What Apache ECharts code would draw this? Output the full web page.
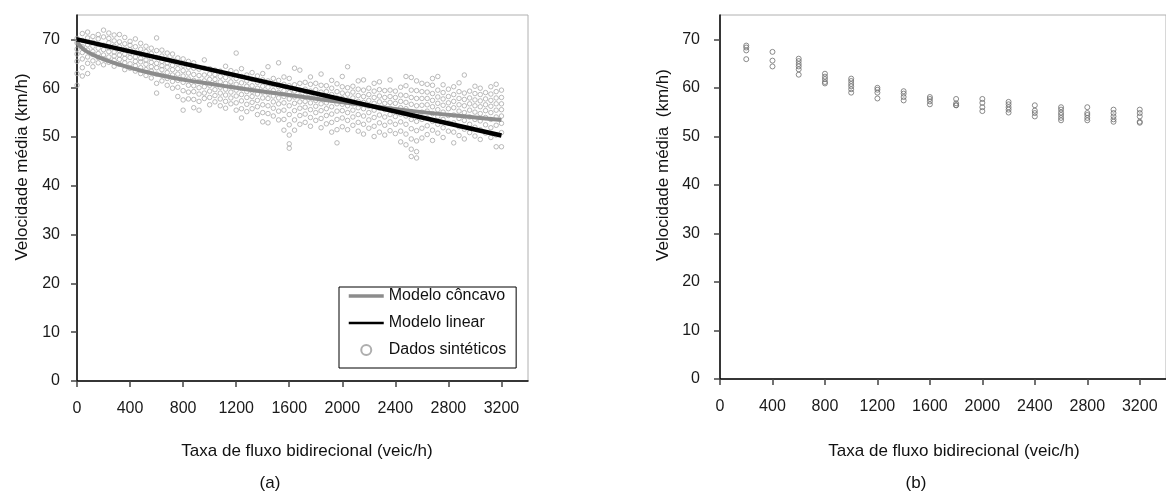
<!DOCTYPE html>
<html><head><meta charset="utf-8">
<script src="https://cdn.jsdelivr.net/npm/echarts@6/dist/echarts.min.js"></script>
<style>html,body{margin:0;padding:0;background:#fff}#c{width:1166px;height:493px}</style>
</head><body><div id="c"></div>
<script>
const flowTicks = [0, 400, 800, 1200, 1600, 2000, 2400, 2800, 3200];
const speedTicks = [0, 10, 20, 30, 40, 50, 60, 70];

// (a) synthetic data: one column of speeds per flow value
const flowA = [0,40,80,120,160,200,240,280,320,360,400,440,480,520,560,600,640,680,720,760,800,840,880,920,960,1000,1040,1080,1120,1160,1200,1240,1280,1320,1360,1400,1440,1480,1520,1560,1600,1640,1680,1720,1760,1800,1840,1880,1920,1960,2000,2040,2080,2120,2160,2200,2240,2280,2320,2360,2400,2440,2480,2520,2560,2600,2640,2680,2720,2760,2800,2840,2880,2920,2960,3000,3040,3080,3120,3160,3200];
const speedA = [
[60.6,63,65.5,67,68,69.3,70.2],
[62.5,64.2,66,67.3,68.5,69.8,71.2],
[63,65.1,66.4,67.8,68.9,70.3,71.5],
[64.4,65.6,66.9,67.5,68.6,69.4,70.6],
[65.2,66.3,67.1,68.2,69,70.1,71],
[64.8,66,66.8,67.9,68.8,70.5,71.9],
[65.3,66.4,67.5,68.3,69.3,70.2,71.3],
[64.5,65.7,66.6,67.4,68.6,69.7,70.9],
[64.9,65.9,66.8,67.7,68.5,69.5,71],
[63.8,65.2,66.1,67,68,69.1,70.4],
[64.1,65,66.3,67.2,67.9,68.8,69.6],
[63.5,64.6,65.5,66.4,67.3,68.5,70.1],
[63,64.2,65.4,66.1,67,68,69.2],
[62.6,63.8,64.9,65.8,66.7,67.5,68.6],
[62.1,63.5,64.4,65.3,66.2,67.1,68.2],
[59,61,62.9,64.2,65.1,66.3,67.7,70.3],
[61.5,62.7,63.8,64.6,65.5,66.6,67.8],
[60.6,62,63.2,64.3,65.2,66,67.2],
[60,61.4,62.7,63.8,64.7,65.8,67],
[58.3,60.2,61.6,62.9,64,65,66.2],
[55.5,57.6,59.5,61.2,62.5,63.6,64.7,66],
[57.8,59.2,60.6,61.9,63.1,64.3,65.5],
[56,57.7,59.3,60.5,61.6,62.8,64.1,65.2],
[55.5,57.3,58.8,60.1,61.4,62.6,63.9],
[57.9,59,60.3,61.5,62.7,64.1,65.8],
[56.6,58.1,59.4,60.6,61.8,62.9,64],
[57.2,58.5,59.7,60.9,61.8,62.8,63.7],
[56.4,57.8,59,60.2,61.3,62.4,63.5],
[55.9,57.3,58.6,59.8,61,62.2,64.5],
[56.8,58,59.2,60.3,61.3,62.5,63.6],
[55.5,57,58.4,59.6,60.8,62,63.3,67.2],
[53.9,55.8,57.4,58.7,59.9,61.1,62.4,64],
[55.2,56.7,58.1,59.3,60.4,61.5,62.7],
[55.8,57.1,58.3,59.4,60.5,61.8,63.2],
[54.6,56.2,57.5,58.8,60,61.2,62.5],
[53.1,55,56.6,58,59.2,60.4,61.7,63],
[52.9,54.8,56.4,57.9,59,60.2,61.5,64.4],
[54.3,55.9,57.2,58.4,59.5,60.7,62],
[53.5,55.3,56.8,58,59.1,60.3,61.6,65.2],
[51.4,53.6,55.5,57,58.3,59.5,60.8,62.3],
[47.7,48.6,50.4,52.5,54.6,56.4,57.8,59.1,60.5,62],
[51.4,53.5,55.4,56.9,58.2,59.4,60.7,64.1],
[52.6,54.4,55.9,57.2,58.4,59.6,61,63.7],
[53,54.7,56.1,57.3,58.5,59.8,61.2],
[52.2,54,55.6,57,58.2,59.4,60.8,62.3],
[53.4,55,56.3,57.5,58.6,59.7,61],
[51.9,53.8,55.4,56.8,58,59.2,60.6,62.9],
[52.7,54.4,55.8,57,58.1,59.3,60.5],
[51,53,54.7,56.2,57.5,58.7,60,61.6],
[48.8,51.5,53.6,55.3,56.8,58,59.3,60.9],
[52.1,53.9,55.4,56.7,57.9,59,60.3,62.4],
[51.5,53.4,55,56.4,57.6,58.8,60.1,64.4],
[52.4,54.1,55.5,56.8,58,59.2,60.4],
[51.2,53,54.6,56,57.3,58.5,59.8,61.5],
[50.6,52.6,54.3,55.8,57.1,58.3,59.6,61.7],
[51.8,53.5,55,56.3,57.5,58.7,60],
[50.1,52.2,54,55.5,56.9,58.1,59.4,61],
[51,52.9,54.5,55.9,57.2,58.4,59.7,61.3],
[50.4,52.4,54.1,55.6,56.9,58.1,59.5],
[51.3,53.1,54.6,55.9,57.1,58.3,59.6,61.7],
[50.7,52.6,54.2,55.6,56.9,58.1,59.4],
[49,51.2,53.1,54.7,56,57.3,58.6,60.2],
[48.4,50.6,52.6,54.3,55.8,57.1,58.5,60.5,62.4],
[46,47.5,49.6,51.7,53.6,55.2,56.7,58.1,59.6,62.2],
[45.7,47,49.2,51.3,53.2,54.9,56.4,57.9,59.5,61.5],
[49.8,51.8,53.6,55.1,56.5,57.9,59.3,61],
[50.5,52.3,53.9,55.3,56.6,57.9,59.2,60.8],
[49.3,51.4,53.2,54.8,56.2,57.5,58.9,60.6,62],
[50.8,52.6,54.2,55.6,56.9,58.2,59.6,62.4],
[49.9,51.9,53.6,55.1,56.5,57.8,59.1,60.7],
[51.2,52.9,54.4,55.8,57,58.3,59.8],
[48.8,51,52.9,54.5,56,57.3,58.7,60.3],
[50.3,52.1,53.8,55.3,56.6,57.9,59.3,61.1],
[49.6,51.6,53.4,55,56.4,57.7,59,62.7],
[50.9,52.6,54.1,55.5,56.8,58,59.4],
[50.2,52,53.6,55.1,56.4,57.6,58.9,60.4],
[49.5,51.5,53.3,54.8,56.2,57.4,58.7,60],
[50.8,52.5,54,55.4,56.6,57.8,59.1],
[49.9,51.9,53.6,55,56.3,57.5,58.8,60.3],
[48,50.4,52.4,54.1,55.5,56.8,58,59.3,60.8],
[48,50.9,52.8,54.3,55.6,56.8,58.1,59.6]
];

// (a) fitted models
const concaveFlow = [0,25,75,175,300,425,675,925,1175,1430,1680,2035,2535,3040,3200];
const concaveSpeed = [69.5,68.6,67.5,66.2,65.0,64.0,62.4,61.2,60.2,59.2,58.3,57.0,55.3,53.9,53.5];
const linearFlow = [0, 3200];
const linearSpeed = [70.0, 50.3];

// (b) points
const flowB = [200,400,600,800,1000,1200,1400,1600,1800,2000,2200,2400,2600,2800,3000,3200];
const speedB = [
[68.7,68.3,67.7,65.9],
[67.4,65.6,64.4],
[66.0,65.5,64.9,64.4,63.8,62.7],
[62.9,62.3,61.8,61.2,60.9],
[61.9,61.4,60.8,60.3,59.7,59.0],
[60.0,59.6,59.0,57.8],
[59.3,58.8,58.1,57.4],
[58.1,57.7,57.2,56.6],
[57.7,56.8,56.4,56.4],
[57.7,56.9,56.0,55.2],
[57.1,56.6,56.0,55.5,54.9],
[56.4,55.3,54.8,54.1],
[56.0,55.5,54.9,54.4,53.8,53.3],
[56.0,54.8,54.4,53.8,53.3],
[55.5,54.8,54.1,53.5,53.0],
[55.5,54.8,54.1,53.0,52.8]
];

const FONT = 'Liberation Sans, Arial, sans-serif';
const scatterA = [];
flowA.forEach((f, i) => speedA[i].forEach(v => scatterA.push([f, v])));
const scatterB = [];
flowB.forEach((f, i) => speedB[i].forEach(v => scatterB.push([f, v])));
const concave = concaveFlow.map((f, i) => [f, concaveSpeed[i]]);
const linear = linearFlow.map((f, i) => [f, linearSpeed[i]]);
const plain = v => String(v);

function xAx(g) {
  return {
    gridIndex: g, type: 'value', min: 0, max: 3400,
    splitLine: { show: false },
    axisLine: { show: true, onZero: false, lineStyle: { color: '#000', width: 1.5 } },
    axisTick: { show: true, customValues: flowTicks, length: 6, lineStyle: { color: '#444', width: 1.5 } },
    axisLabel: { customValues: flowTicks, formatter: plain, margin: 20, fontFamily: FONT, fontSize: 16, color: '#1a1a1a' }
  };
}
function yAx(g, m) {
  return {
    gridIndex: g, type: 'value', min: 0, max: 75,
    splitLine: { show: false },
    axisLine: { show: true, onZero: false, lineStyle: { color: '#000', width: 1.5 } },
    axisTick: { show: true, customValues: speedTicks, length: 6, lineStyle: { color: '#444', width: 1.5 } },
    axisLabel: { customValues: speedTicks, formatter: plain, margin: m, fontFamily: FONT, fontSize: 16, color: '#1a1a1a' }
  };
}
const titleStyle = { fontFamily: FONT, fontSize: 17, fill: '#111', textAlign: 'center', textVerticalAlign: 'middle' };
const noMark = { color: 'rgba(0,0,0,0)', borderWidth: 0, opacity: 0 };

const chart = echarts.init(document.getElementById('c'));
chart.setOption({
  animation: false,
  backgroundColor: '#fff',
  grid: [
    { left: 77, top: 15, width: 451, height: 366, show: true, borderColor: '#b0b0b0', borderWidth: 1 },
    { left: 720, top: 15, width: 454, height: 364, show: true, borderColor: '#b0b0b0', borderWidth: 1 }
  ],
  xAxis: [xAx(0), xAx(1)],
  yAxis: [yAx(0, 17), yAx(1, 20)],
  legend: {
    left: 339, top: 287, orient: 'vertical',
    itemWidth: 35, itemHeight: 10, itemGap: 11,
    padding: [1, 10, 10, 8],
    borderColor: '#000', borderWidth: 1, backgroundColor: '#fff',
    textStyle: { fontFamily: FONT, fontSize: 16, color: '#111' },
    data: [
      { name: 'Modelo côncavo', itemStyle: noMark, lineStyle: { color: '#8c8c8c', width: 3.5 } },
      { name: 'Modelo linear', itemStyle: noMark, lineStyle: { color: '#000', width: 2.5 } },
      { name: 'Dados sintéticos', icon: 'circle', itemStyle: { color: 'rgba(0,0,0,0)', borderColor: '#9a9a9a', borderWidth: 2 } }
    ]
  },
  series: [
    { type: 'scatter', name: 'Dados sintéticos', xAxisIndex: 0, yAxisIndex: 0, data: scatterA,
      symbol: 'circle', symbolSize: 4.5, z: 2,
      itemStyle: { color: 'rgba(0,0,0,0)', borderColor: '#a9a9a9', borderWidth: 1 } },
    { type: 'line', name: 'Modelo côncavo', xAxisIndex: 0, yAxisIndex: 0, data: concave, smooth: true,
      symbol: 'none', showSymbol: false, z: 3, color: '#8c8c8c', lineStyle: { color: '#8c8c8c', width: 4 } },
    { type: 'line', name: 'Modelo linear', xAxisIndex: 0, yAxisIndex: 0, data: linear,
      symbol: 'none', showSymbol: false, z: 4, color: '#000', lineStyle: { color: '#000', width: 4.5 } },
    { type: 'scatter', name: 'b', xAxisIndex: 1, yAxisIndex: 1, data: scatterB,
      symbol: 'circle', symbolSize: 5,
      itemStyle: { color: 'rgba(0,0,0,0)', borderColor: '#6e6e6e', borderWidth: 1 } }
  ],
  graphic: [
    { type: 'text', x: 22, y: 167, rotation: Math.PI / 2, style: Object.assign({ text: 'Velocidade média (km/h)' }, titleStyle) },
    { type: 'text', x: 663, y: 165, rotation: Math.PI / 2, style: Object.assign({ text: 'Velocidade média  (km/h)' }, titleStyle) },
    { type: 'text', x: 307, y: 451, style: Object.assign({ text: 'Taxa de fluxo bidirecional (veic/h)' }, titleStyle) },
    { type: 'text', x: 954, y: 451, style: Object.assign({ text: 'Taxa de fluxo bidirecional (veic/h)' }, titleStyle) },
    { type: 'text', x: 270, y: 483, style: Object.assign({ text: '(a)' }, titleStyle) },
    { type: 'text', x: 916, y: 483, style: Object.assign({ text: '(b)' }, titleStyle) }
  ]
});
</script></body></html>
